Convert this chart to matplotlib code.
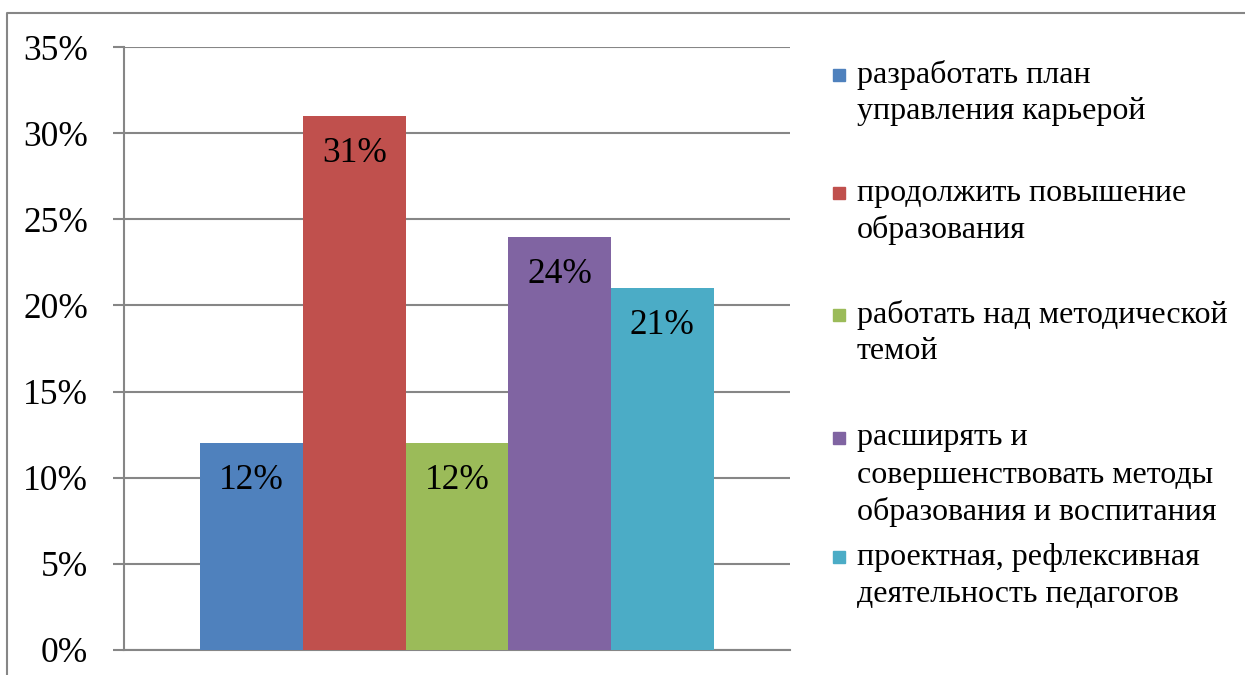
import matplotlib
matplotlib.use('Agg')
import matplotlib.pyplot as plt
from matplotlib.lines import Line2D
from matplotlib.patches import Rectangle
import numpy as np

plt.rcParams['font.family'] = ['Liberation Serif', 'DejaVu Serif']

categories = [
    'разработать план\nуправления карьерой',
    'продолжить повышение\nобразования',
    'работать над методической\nтемой',
    'расширять и\nсовершенствовать методы\nобразования и воспитания',
    'проектная, рефлексивная\nдеятельность педагогов',
]
values = [12, 31, 12, 24, 21]
colors = ['#4F81BD', '#C0504D', '#9BBB59', '#8064A2', '#4BACC6']
yticks = [0, 5, 10, 15, 20, 25, 30, 35]

W, H = 1245, 675
fig = plt.figure(figsize=(W / 100, H / 100), dpi=100)
fig.patch.set_facecolor('white')

# outer chart frame (left and top edges only visible)
fig.add_artist(Line2D([7 / W, 7 / W, 1], [0, 1 - 13 / H, 1 - 13 / H],
                      transform=fig.transFigure, color='#868686', lw=1.5))

ax = fig.add_axes([124 / W, 25 / H, 666 / W, 603 / H])
grid = '#868686'

n = len(values)
width = 1.0
gap = 0.745
x = np.arange(n) * width
ax.bar(x, values, width=width, color=colors, align='center', zorder=3)
ax.set_xlim(x[0] - width / 2 - gap, x[-1] + width / 2 + gap)
ax.set_ylim(0, 35)

for xi, v in zip(x, values):
    ax.annotate('{:d}%'.format(v), (xi, v), xytext=(0, -27),
                textcoords='offset points', ha='center', va='center',
                fontsize=25.5, color='black', zorder=4)

ax.set_yticks(yticks)
ax.set_yticklabels(['{:d}%'.format(t) for t in yticks], fontsize=25.5)
ax.set_xticks([])
ax.yaxis.grid(True, color=grid, lw=1.5, zorder=0)
for s in ['top', 'right']:
    ax.spines[s].set_visible(False)
ax.spines['left'].set_color(grid)
ax.spines['left'].set_linewidth(1.5)
ax.spines['bottom'].set_color(grid)
ax.spines['bottom'].set_linewidth(1.5)
ax.tick_params(axis='y', length=8, width=1.5, color=grid, pad=18)

# legend drawn by hand to the right of the plot
first_line = [75, 193, 315, 438, 557]
line_step = 37
for lbl, c, y0 in zip(categories, colors, first_line):
    fig.add_artist(Rectangle((833 / W, 1 - (y0 + 6) / H), 12 / W, 12 / H,
                             transform=fig.transFigure, color=c))
    for k, line in enumerate(lbl.split('\n')):
        fig.text(857 / W, 1 - (y0 + k * line_step) / H, line,
                 fontsize=23, ha='left', va='center')

fig.savefig('out.png', dpi=100)
